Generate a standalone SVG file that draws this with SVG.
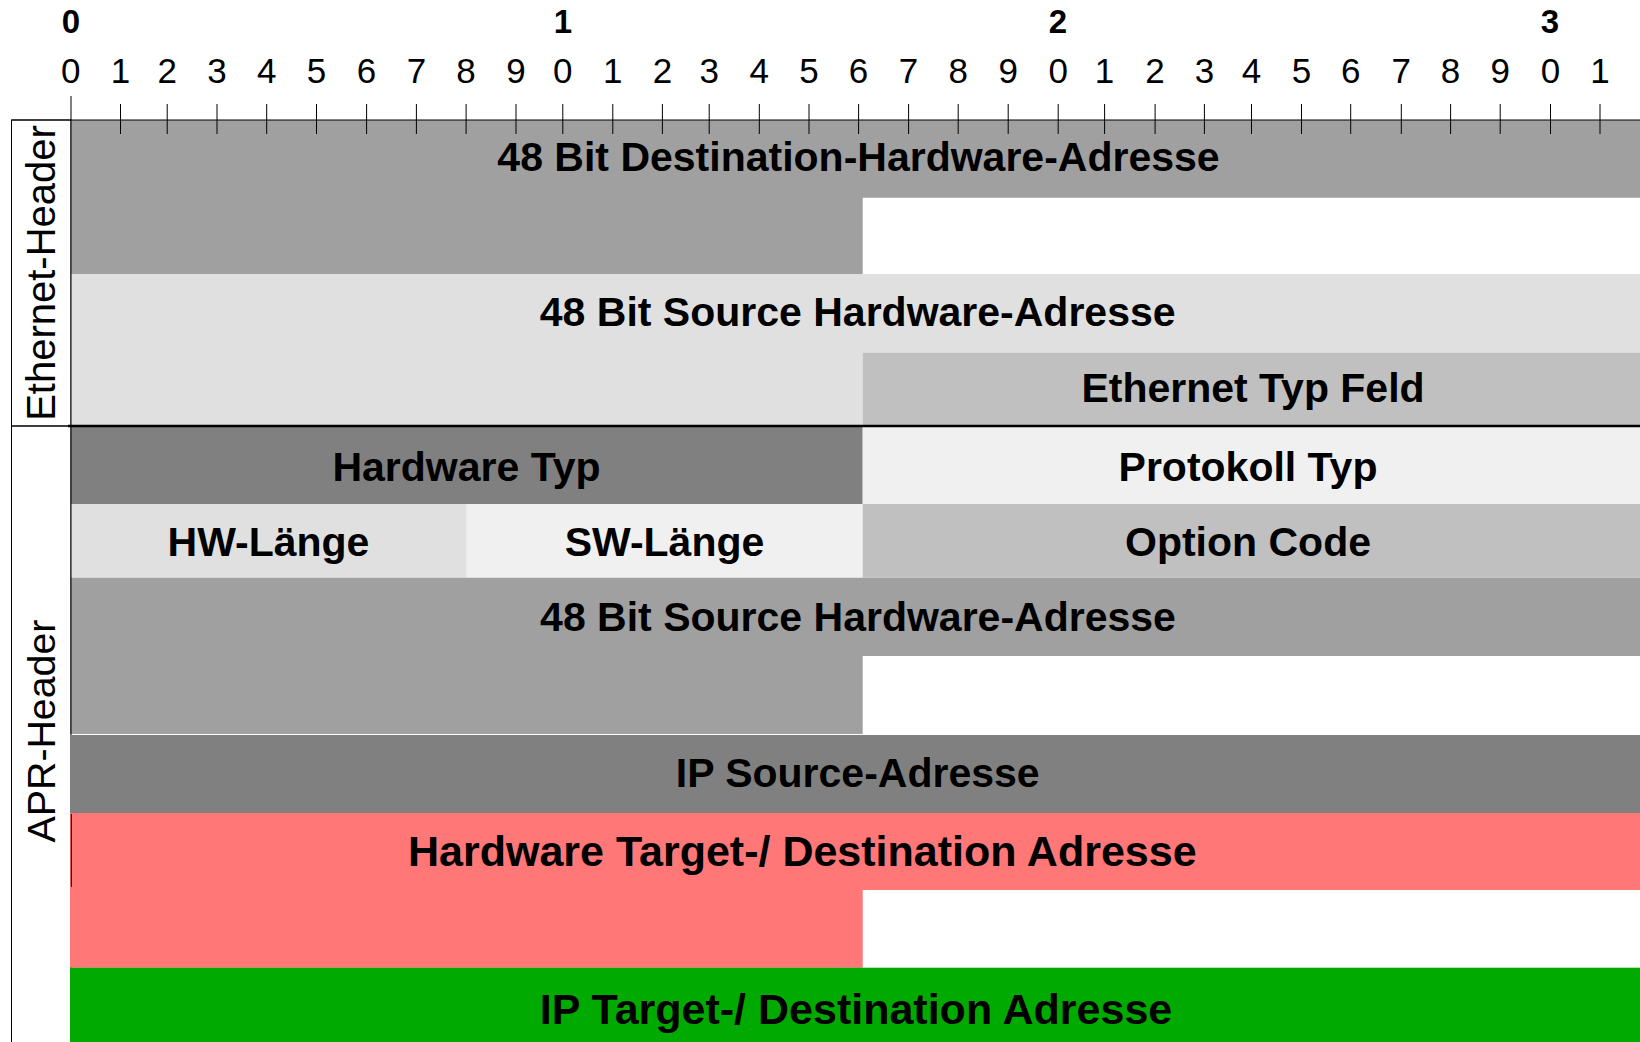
<svg xmlns="http://www.w3.org/2000/svg" width="1640" height="1042" viewBox="0 0 1640 1042">
  <style>
    .lbl { font-family: "Liberation Sans", Arial, sans-serif; font-weight: bold; font-size: 41px; fill: #000; text-anchor: middle; }
    .side { font-family: "Liberation Sans", Arial, sans-serif; font-size: 40px; fill: #000; text-anchor: middle; }
    .num { font-family: "Liberation Sans", Arial, sans-serif; font-size: 35px; fill: #000; text-anchor: middle; }
    .dec { font-family: "Liberation Sans", Arial, sans-serif; font-weight: bold; font-size: 33px; fill: #000; text-anchor: middle; }
    .tick { stroke: #000; stroke-width: 1; }
    .rule { stroke: #000; stroke-width: 1; fill: none; }
  </style>
  <rect x="0" y="0" width="1640" height="1042" fill="#fff"/>

  <!-- bit ruler: decade numbers, bit numbers -->
  <g id="ruler">
    <text class="dec" x="71" y="33">0</text>
    <text class="dec" x="563" y="33">1</text>
    <text class="dec" x="1058" y="33">2</text>
    <text class="dec" x="1550" y="33">3</text>
    <text class="num" x="70.8" y="83">0</text>
    <text class="num" x="120.5" y="83">1</text>
    <text class="num" x="167.2" y="83">2</text>
    <text class="num" x="217" y="83">3</text>
    <text class="num" x="266.7" y="83">4</text>
    <text class="num" x="316.5" y="83">5</text>
    <text class="num" x="366.6" y="83">6</text>
    <text class="num" x="416.4" y="83">7</text>
    <text class="num" x="466.1" y="83">8</text>
    <text class="num" x="516" y="83">9</text>
    <text class="num" x="562.8" y="83">0</text>
    <text class="num" x="612.8" y="83">1</text>
    <text class="num" x="662.4" y="83">2</text>
    <text class="num" x="709.2" y="83">3</text>
    <text class="num" x="759.3" y="83">4</text>
    <text class="num" x="809" y="83">5</text>
    <text class="num" x="858.6" y="83">6</text>
    <text class="num" x="908.6" y="83">7</text>
    <text class="num" x="958.2" y="83">8</text>
    <text class="num" x="1008.2" y="83">9</text>
    <text class="num" x="1058.2" y="83">0</text>
    <text class="num" x="1104.6" y="83">1</text>
    <text class="num" x="1155.1" y="83">2</text>
    <text class="num" x="1204.4" y="83">3</text>
    <text class="num" x="1251.5" y="83">4</text>
    <text class="num" x="1301.5" y="83">5</text>
    <text class="num" x="1350.7" y="83">6</text>
    <text class="num" x="1401.3" y="83">7</text>
    <text class="num" x="1450.6" y="83">8</text>
    <text class="num" x="1500.2" y="83">9</text>
    <text class="num" x="1550.5" y="83">0</text>
    <text class="num" x="1600" y="83">1</text>
  </g>

  <!-- side boxes naming the two headers -->
  <g id="ethernet-header-box">
    <rect x="11.5" y="120" width="59.5" height="306" fill="#fff" class="rule"/>
    <text class="side" transform="translate(54.5 273) rotate(-90)">Ethernet-Header</text>
  </g>
  <g id="apr-header-box">
    <rect x="11.5" y="426" width="59.5" height="640" fill="#fff" class="rule"/>
    <text class="side" transform="translate(54.5 731) rotate(-90)" style="font-size:39.3px">APR-Header</text>
  </g>

  <!-- Ethernet header fields -->
  <g id="eth-dst-hw">
    <path d="M71 120 H1650 V197.7 H862.7 V274 H71 Z" fill="#a0a0a0"/>
    <text class="lbl" x="858.5" y="170.8">48 Bit Destination-Hardware-Adresse</text>
  </g>
  <g id="eth-src-hw">
    <path d="M71 274 H1650 V352.7 H862.7 V426 H71 Z" fill="#e0e0e0"/>
    <text class="lbl" x="857.7" y="326">48 Bit Source Hardware-Adresse</text>
  </g>
  <g id="eth-type">
    <rect x="862.7" y="352.7" width="787.3" height="73.3" fill="#c0c0c0"/>
    <text class="lbl" x="1253" y="401.8">Ethernet Typ Feld</text>
  </g>

  <!-- ARP header fields -->
  <g id="hw-type">
    <rect x="71" y="426" width="791.7" height="78" fill="#808080"/>
    <text class="lbl" x="466.5" y="481">Hardware Typ</text>
  </g>
  <g id="proto-type">
    <rect x="862.7" y="426" width="787.3" height="78" fill="#f0f0f0"/>
    <text class="lbl" x="1248" y="480.5">Protokoll Typ</text>
  </g>
  <g id="hw-len">
    <rect x="71" y="504" width="395.7" height="73.7" fill="#e0e0e0"/>
    <text class="lbl" x="268.5" y="556.3">HW-Länge</text>
  </g>
  <g id="sw-len">
    <rect x="466.7" y="504" width="396" height="73.7" fill="#f0f0f0"/>
    <text class="lbl" x="664.5" y="556.3">SW-Länge</text>
  </g>
  <g id="op-code">
    <rect x="862.7" y="504" width="787.3" height="73.7" fill="#c0c0c0"/>
    <text class="lbl" x="1248" y="556.3">Option Code</text>
  </g>
  <g id="arp-src-hw">
    <path d="M71 577.7 H1650 V656 H862.7 V734 H71 Z" fill="#a0a0a0"/>
    <text class="lbl" x="858" y="630.5">48 Bit Source Hardware-Adresse</text>
  </g>
  <g id="arp-src-ip">
    <rect x="70" y="735" width="1580" height="78" fill="#808080"/>
    <text class="lbl" x="857.7" y="787">IP Source-Adresse</text>
  </g>
  <g id="arp-dst-hw">
    <path d="M70 813 H1650 V890 H862.7 V967.7 H70 Z" fill="#ff7777"/>
    <text class="lbl" x="802.3" y="866.3" style="font-size:43px">Hardware Target-/ Destination Adresse</text>
  </g>
  <g id="arp-dst-ip">
    <rect x="70" y="967.7" width="1580" height="80" fill="#00aa00"/>
    <text class="lbl" x="856" y="1024" style="font-size:43px">IP Target-/ Destination Adresse</text>
  </g>

  <!-- ruler ticks and frame lines -->
  <g id="lines">
    <line class="rule" x1="11.5" y1="120" x2="1640" y2="120"/>
    <line class="rule" x1="71" y1="96" x2="71" y2="734"/>
    <line class="rule" x1="71.3" y1="814" x2="71.3" y2="887"/>
    <line x1="68" y1="426" x2="1640" y2="426" stroke="#000" stroke-width="2.5"/>
    <g class="tick">
      <line x1="120.5" y1="104" x2="120.5" y2="134"/>
      <line x1="167.2" y1="104" x2="167.2" y2="134"/>
      <line x1="217" y1="104" x2="217" y2="134"/>
      <line x1="266.7" y1="104" x2="266.7" y2="134"/>
      <line x1="316.5" y1="104" x2="316.5" y2="134"/>
      <line x1="366.6" y1="104" x2="366.6" y2="134"/>
      <line x1="416.4" y1="104" x2="416.4" y2="134"/>
      <line x1="466.1" y1="104" x2="466.1" y2="134"/>
      <line x1="516" y1="104" x2="516" y2="134"/>
      <line x1="562.8" y1="104" x2="562.8" y2="134"/>
      <line x1="612.8" y1="104" x2="612.8" y2="134"/>
      <line x1="662.4" y1="104" x2="662.4" y2="134"/>
      <line x1="709.2" y1="104" x2="709.2" y2="134"/>
      <line x1="759.3" y1="104" x2="759.3" y2="134"/>
      <line x1="809" y1="104" x2="809" y2="134"/>
      <line x1="858.6" y1="104" x2="858.6" y2="134"/>
      <line x1="908.6" y1="104" x2="908.6" y2="134"/>
      <line x1="958.2" y1="104" x2="958.2" y2="134"/>
      <line x1="1008.2" y1="104" x2="1008.2" y2="134"/>
      <line x1="1058.2" y1="104" x2="1058.2" y2="134"/>
      <line x1="1104.6" y1="104" x2="1104.6" y2="134"/>
      <line x1="1155.1" y1="104" x2="1155.1" y2="134"/>
      <line x1="1204.4" y1="104" x2="1204.4" y2="134"/>
      <line x1="1251.5" y1="104" x2="1251.5" y2="134"/>
      <line x1="1301.5" y1="104" x2="1301.5" y2="134"/>
      <line x1="1350.7" y1="104" x2="1350.7" y2="134"/>
      <line x1="1401.3" y1="104" x2="1401.3" y2="134"/>
      <line x1="1450.6" y1="104" x2="1450.6" y2="134"/>
      <line x1="1500.2" y1="104" x2="1500.2" y2="134"/>
      <line x1="1550.5" y1="104" x2="1550.5" y2="134"/>
      <line x1="1600" y1="104" x2="1600" y2="134"/>
    </g>
  </g>
</svg>
